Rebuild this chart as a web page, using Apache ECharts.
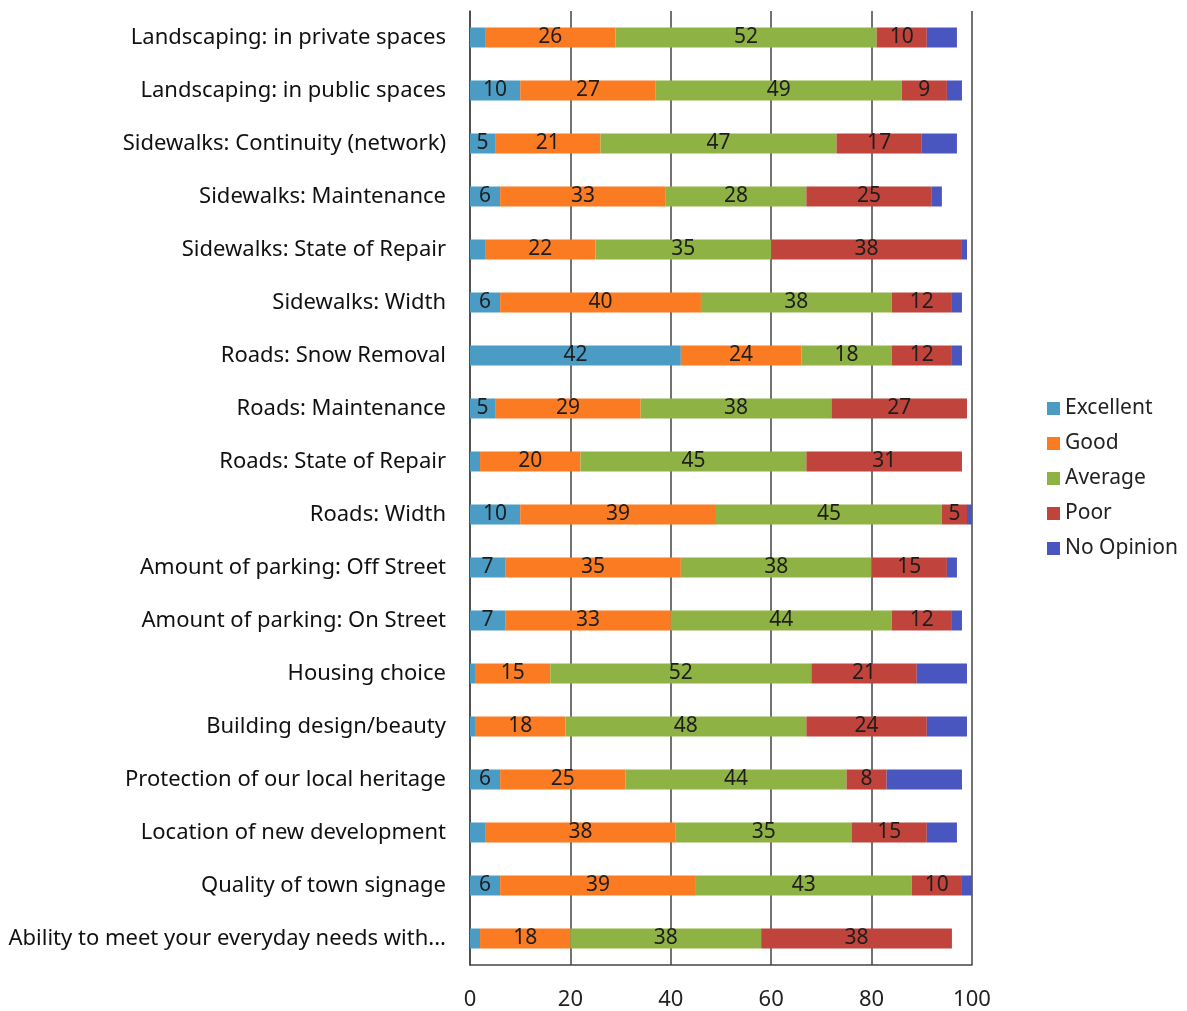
<!DOCTYPE html>
<html>
<head>
<meta charset="utf-8">
<script src="https://cdn.jsdelivr.net/npm/echarts@6/dist/echarts.min.js"></script>
<style>
  html, body { margin: 0; padding: 0; background: #fff; }
  #chart { width: 1187px; height: 1011px; }
</style>
</head>
<body>
<div id="chart"></div>
<script>
// Survey topics, top to bottom
const categories = [
  'Landscaping: in private spaces',
  'Landscaping: in public spaces',
  'Sidewalks: Continuity (network)',
  'Sidewalks: Maintenance',
  'Sidewalks: State of Repair',
  'Sidewalks: Width',
  'Roads: Snow Removal',
  'Roads: Maintenance',
  'Roads: State of Repair',
  'Roads: Width',
  'Amount of parking: Off Street',
  'Amount of parking: On Street',
  'Housing choice',
  'Building design/beauty',
  'Protection of our local heritage',
  'Location of new development',
  'Quality of town signage',
  'Ability to meet your everyday needs with...'
];

// Percent of responses per rating
const excellent = [3, 10, 5, 6, 3, 6, 42, 5, 2, 10, 7, 7, 1, 1, 6, 3, 6, 2];
const good      = [26, 27, 21, 33, 22, 40, 24, 29, 20, 39, 35, 33, 15, 18, 25, 38, 39, 18];
const average   = [52, 49, 47, 28, 35, 38, 18, 38, 45, 45, 38, 44, 52, 48, 44, 35, 43, 38];
const poor      = [10, 9, 17, 25, 38, 12, 12, 27, 31, 5, 15, 12, 21, 24, 8, 15, 10, 38];
const noOpinion = [6, 3, 7, 2, 1, 2, 2, 0, 0, 1, 2, 2, 10, 8, 15, 6, 2, 0];

const xTicks = [0, 20, 40, 60, 80, 100];

const FONT = '"Noto Sans", "Open Sans", sans-serif';

function makeSeries(name, data, color, showLabels) {
  return {
    name: name,
    type: 'bar',
    stack: 'total',
    barWidth: 20,
    data: data,
    itemStyle: { color: color },
    label: {
      show: showLabels,
      position: 'inside',
      color: '#1e1e1e',
      fontFamily: FONT,
      fontSize: 21,
      formatter: p => (p.value >= 5 ? String(p.value) : '')
    }
  };
}

const chart = echarts.init(document.getElementById('chart'), null, { renderer: 'canvas' });
chart.setOption({
  backgroundColor: '#fff',
  animation: false,
  textStyle: { fontFamily: FONT },
  grid: { left: 470, right: 215, top: 11, bottom: 45, containLabel: false },
  legend: {
    orient: 'vertical',
    left: 1042,
    top: 393,
    itemWidth: 13,
    itemHeight: 13,
    itemGap: 14,
    icon: 'rect',
    textStyle: { fontSize: 21, color: '#222', fontFamily: FONT },
    data: ['Excellent', 'Good', 'Average', 'Poor', 'No Opinion']
  },
  xAxis: {
    type: 'value',
    min: xTicks[0],
    max: xTicks[xTicks.length - 1],
    interval: 20,
    axisLine: { show: true, lineStyle: { color: '#444', width: 1.5 } },
    axisTick: { show: false },
    axisLabel: { color: '#222', fontSize: 22, margin: 24, fontFamily: FONT },
    splitLine: { show: true, lineStyle: { color: '#444', width: 1.5 } }
  },
  yAxis: {
    type: 'category',
    inverse: true,
    data: categories,
    axisLine: { show: true, lineStyle: { color: '#444', width: 1.5 } },
    axisTick: { show: false },
    axisLabel: { color: '#111', fontSize: 22, margin: 24, fontFamily: FONT }
  },
  series: [
    makeSeries('Excellent', excellent, '#4b9cc4', true),
    makeSeries('Good', good, '#fb7b22', true),
    makeSeries('Average', average, '#8fb244', true),
    makeSeries('Poor', poor, '#c0443c', true),
    makeSeries('No Opinion', noOpinion, '#4a56c0', false)
  ]
});
</script>
</body>
</html>
